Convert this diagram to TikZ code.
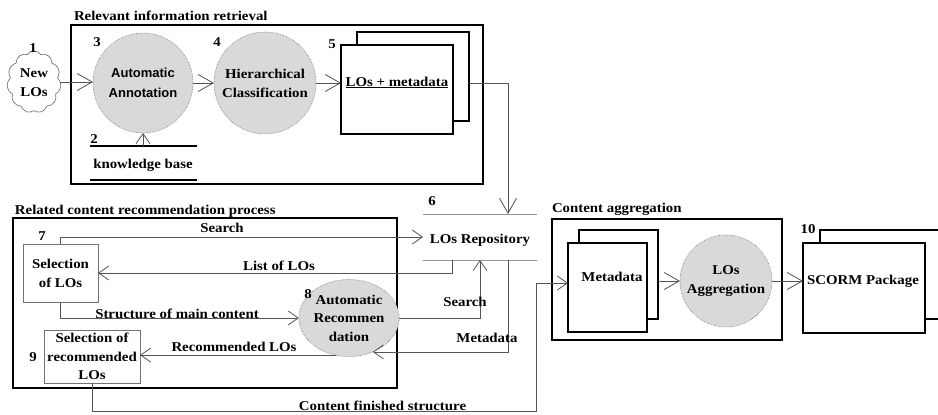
\documentclass[tikz,border=0pt]{standalone}
\usepackage{fontspec}
\setmainfont{Liberation Serif}[FakeStretch=1.1]
\newfontfamily\sansfam{Liberation Sans}
\usetikzlibrary{arrows.meta,shapes.symbols,shapes.geometric}
\definecolor{procfill}{RGB}{217,217,217}
\definecolor{conncol}{RGB}{85,85,85}
\definecolor{repcol}{RGB}{150,150,150}
\begin{document}
\begin{tikzpicture}[x=1pt,y=-1pt,
  every node/.style={font=\fontsize{13.5}{19}\selectfont\bfseries, inner sep=0pt, outer sep=0pt},
  grp/.style={draw, line width=1.8pt},
  docbox/.style={draw, line width=1.3pt, fill=white},
  plainbox/.style={draw=black!55, line width=0.8pt, fill=white},
  proc/.style={circle, fill=procfill, draw=black!55, densely dotted, line width=0.6pt, align=center},
  conn/.style={draw=conncol, line width=0.8pt},
  arr/.style={conn, -{Straight Barb[length=10pt,width=14pt]}},
  bigarr/.style={conn, -{Straight Barb[length=15pt,width=17pt]}},
  repline/.style={draw=repcol, line width=0.8pt},
  txt/.style={anchor=base, align=center},
]
\useasboundingbox (0,0) rectangle (938,415);

% ---------- Relevant information retrieval ----------
\node[anchor=base west] (t1) at (74,20.5) {Relevant information retrieval};
\node[grp, minimum width=412, minimum height=159] (g1) at (277,104.5) {};

\node[cloud, cloud puffs=11, cloud puff arc=110, draw=black!60, line width=0.6pt, fill=white,
      minimum width=54, minimum height=62, aspect=0.9] (c1) at (34,82) {};
\node[align=center] (c1t) at (34,83) {New\\LOs};
\node[txt] (n1) at (33,52) {1};

\node[proc, minimum size=100, font=\fontsize{13}{20}\selectfont\bfseries\sansfam] (a3) at (143,83) {Automatic\\Annotation};
\node[txt] (n3) at (97,46.5) {3};
\node[proc, minimum size=102] (a4) at (265,83) {Hierarchical\\Classification};
\node[txt] (n4) at (217,46.5) {4};

\node[docbox, minimum width=112, minimum height=89] (b5b) at (413,76.5) {};
\node[docbox, minimum width=112, minimum height=89] (b5f) at (397,89.5) {};
\node[txt] (b5t) at (397,86) {\underline{LOs + metadata}};
\node[txt] (n5) at (332,48) {5};

\coordinate (kbl) at (90,146);
\coordinate (kbr) at (197,146);
\coordinate (kbl2) at (90,180);
\coordinate (kbr2) at (197,180);
\draw[line width=1.3pt] (kbl) -- (kbr);
\draw[line width=1.3pt] (kbl2) -- (kbr2);
\node[txt] (kb) at (143,168.5) {knowledge base};
\node[txt] (n2) at (94,143) {2};
\coordinate (kbtop) at (143,146);

\draw[bigarr] (c1.east) -- (c1.east -| a3.west);
\draw[bigarr] (a3.east) -- (a4.west);
\draw[bigarr] (a4.east) -- (a4.east -| b5f.west);
\draw[arr] (kbtop) -- (a3.south);

% ---------- LOs Repository ----------
\node[minimum width=114, minimum height=46] (rep) at (480,237) {};
\draw[repline] (rep.north west) -- (rep.north east);
\draw[repline] (rep.south west) -- (rep.south east);
\node[txt] (rept) at (480,243) {LOs Repository};
\node[txt] (n6) at (432,205) {6};
\coordinate (reptop) at (508,214);
\draw[bigarr] (b5b.east |- a4.east) -| (reptop);

% ---------- Related content recommendation process ----------
\node[anchor=base west] (t2) at (15,214) {Related content recommendation process};
\node[grp, minimum width=384, minimum height=170] (g2) at (205,303) {};

\node[plainbox, minimum width=75, minimum height=58, align=center] (b7) at (60.5,273) {Selection\\of LOs};
\node[txt] (n7) at (42,240) {7};
\node[plainbox, minimum width=96, minimum height=53, align=center, font=\fontsize{13.5}{18.5}\selectfont\bfseries] (b9) at (92,356.5) {Selection of\\recommended\\LOs};
\node[txt] (n9) at (33,361) {9};

\node[proc, ellipse, minimum width=82, minimum height=77, font=\fontsize{13.5}{18.5}\selectfont\bfseries] (a8) at (349,318) {Automatic\\Recommen\\dation};
\node[txt] (n8) at (308,298) {8};

\coordinate (repsearch) at (480,260);
\coordinate (replist) at (452,260);
\coordinate (repmeta) at (508,260);

\draw[arr] (b7.north) |- (rep.west);
\node[txt] (ls1) at (222,232.5) {Search};
\draw[arr] (replist) |- (b7.east);
\node[txt] (ls2) at (279,270) {List of LOs};
\draw[arr] (b7.south) |- (a8.west);
\node[txt] (ls3) at (177,318) {Structure of main content};
\draw[arr] (a8.east) -| (repsearch);
\node[txt] (ls4) at (465,306) {Search};
\draw[arr] (repmeta) |- (a8.-55);
\node[txt] (ls5) at (487,342) {Metadata};
\draw[arr] (a8.-110) -- (a8.-110 -| b9.east);
\node[txt] (ls6) at (234,351.5) {Recommended LOs};

% ---------- Content aggregation ----------
\node[anchor=base west] (t3) at (552,212.5) {Content aggregation};
\node[grp, minimum width=230, minimum height=121] (g3) at (667,279.5) {};
\node[docbox, minimum width=79, minimum height=89] (mb) at (618.5,274.5) {};
\node[docbox, minimum width=79, minimum height=89] (mf) at (607.5,287.5) {};
\node[txt] (mft) at (612,281.5) {Metadata};
\node[proc, minimum size=92] (agg) at (726,281) {LOs\\Aggregation};
\draw[bigarr] (mb.east |- agg.west) -- (agg.west);

\node[docbox, minimum width=140, minimum height=89] (sb) at (890,274.5) {};
\node[docbox, minimum width=122, minimum height=90] (sf) at (864,288) {};
\node[txt] (sft) at (863,284) {SCORM Package};
\node[txt] (n10) at (808,233) {10};
\draw[bigarr] (agg.east) -- (agg.east -| sf.west);

% ---------- Content finished structure ----------
\coordinate (cf1) at (536,411.5);
\coordinate (cf2) at (536,283);
\draw[arr] (b9.south) |- (cf1) -- (cf2) -- (cf2 -| mf.west);
\node[txt] (ls7) at (382.5,410) {Content finished structure};
\end{tikzpicture}
\end{document}
